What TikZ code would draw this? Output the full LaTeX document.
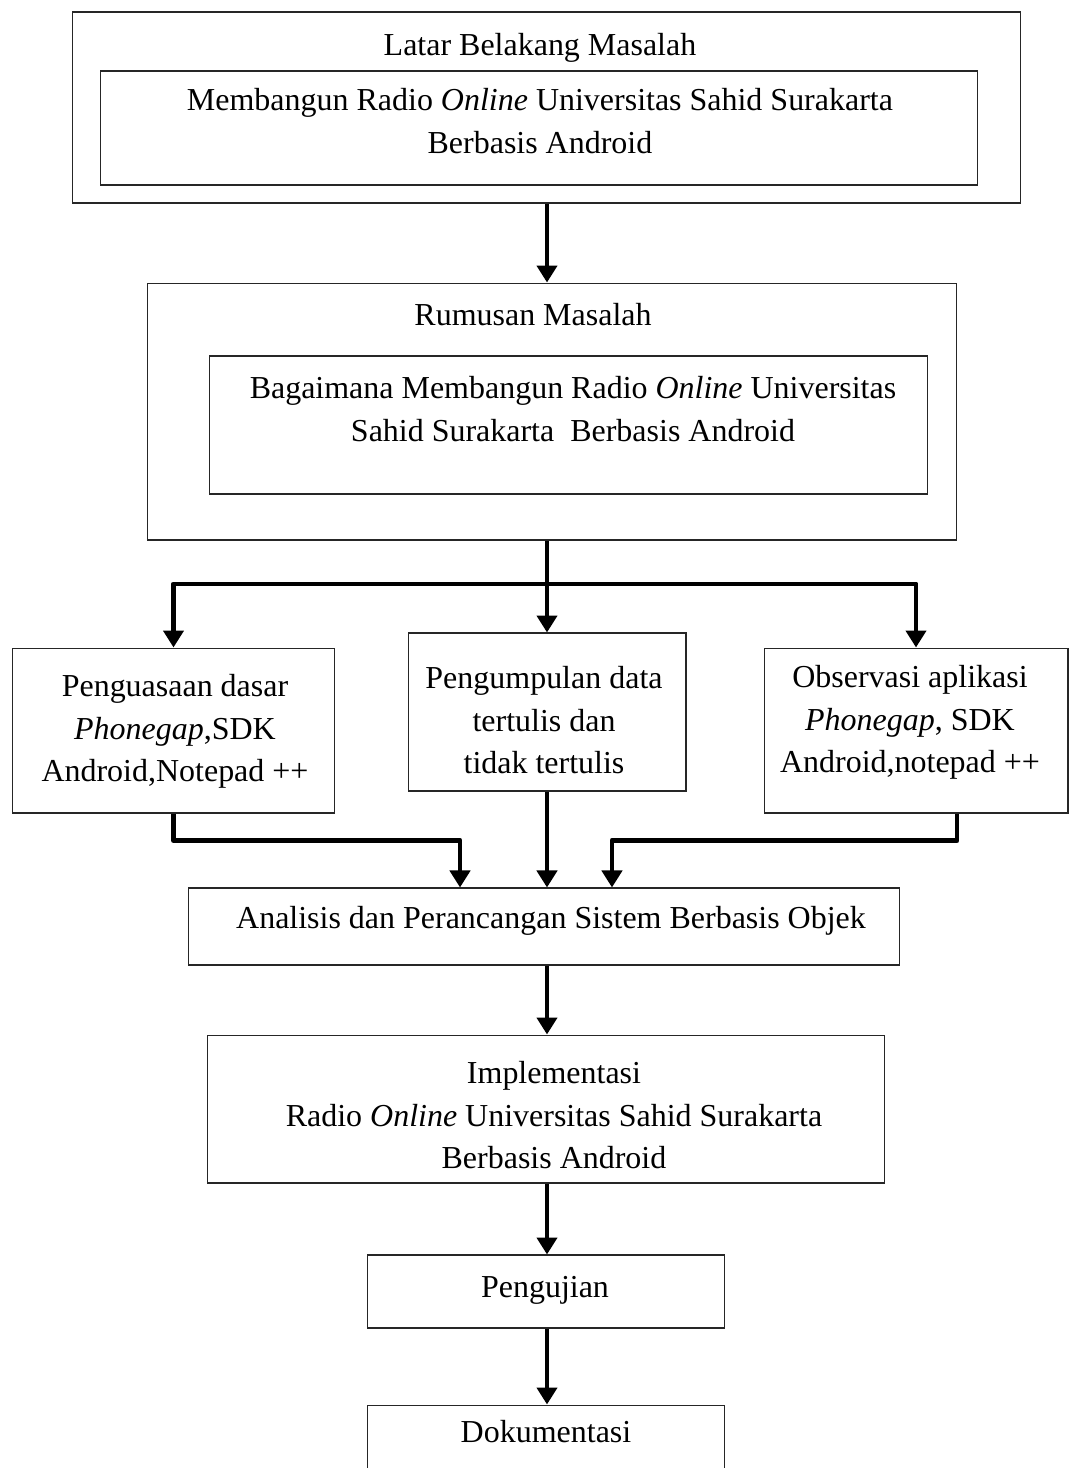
\documentclass[tikz,border=0pt]{standalone}
\usepackage{fontspec}
\setmainfont{Liberation Serif}
\usetikzlibrary{positioning,arrows.meta,calc}

\begin{document}
\begin{tikzpicture}[x=0.02cm,y=-0.02cm,font=\fontsize{18.2}{24.2}\selectfont,
  box/.style={draw=black!85,line width=0.6pt,inner sep=0pt},
  txt/.style={align=center,anchor=north,inner sep=0pt},
  arr/.style={-{Triangle[length=0.34cm,width=0.4cm]},line width=2.8pt,line join=round}]
  \clip (0,0) rectangle (1070,1468);
  % kotak-kotak
  \node[box,minimum width=18.98cm,minimum height=3.82cm] (latar) at (546.5,107.5) {};
  \node[box,minimum width=17.56cm,minimum height=2.28cm] (latarisi) at (539,128) {};
  \node[box,minimum width=16.2cm,minimum height=5.14cm] (rumusan) at (552,411.5) {};
  \node[box,minimum width=14.38cm,minimum height=2.76cm] (rumusanisi) at (568.5,425) {};
  \node[box,minimum width=6.46cm,minimum height=3.3cm] (dasar) at (173.5,730.5) {};
  \node[box,minimum width=5.56cm,minimum height=3.16cm] (data) at (547,712) {};
  \node[box,minimum width=6.08cm,minimum height=3.3cm] (observasi) at (916,730.5) {};
  \node[box,minimum width=14.24cm,minimum height=1.54cm] (analisis) at (544,926.5) {};
  \node[box,minimum width=13.56cm,minimum height=2.96cm] (impl) at (546,1109) {};
  \node[box,minimum width=7.16cm,minimum height=1.46cm] (uji) at (546,1291.5) {};
  \node[box,minimum width=7.16cm,minimum height=1.9cm] (dok) at (546,1452.5) {};
  % teks
  \node[txt] (tlatar) at (540,33) {Latar Belakang Masalah};
  \node[txt] (tlatarisi) at (540,88) {Membangun Radio \emph{Online} Universitas Sahid Surakarta\\Berbasis Android};
  \node[txt] (trumusan) at (533,303) {Rumusan Masalah};
  \node[txt] (trumusanisi) at (573,376) {Bagaimana Membangun Radio \emph{Online} Universitas\\Sahid Surakarta~ Berbasis Android};
  \node[txt] (tdasar) at (175,674) {Penguasaan dasar\\\emph{Phonegap},SDK\\Android,Notepad ++};
  \node[txt] (tdata) at (544,666) {Pengumpulan data\\tertulis dan\\tidak tertulis};
  \node[txt] (tobservasi) at (910,665) {Observasi aplikasi\\\emph{Phonegap}, SDK\\Android,notepad ++};
  \node[txt] (tanalisis) at (551,906) {Analisis dan Perancangan Sistem Berbasis Objek};
  \node[txt] (timpl) at (554,1061) {Implementasi\\Radio \emph{Online} Universitas Sahid Surakarta\\Berbasis Android};
  \node[txt] (tuji) at (545,1276) {Pengujian};
  \node[txt] (tdok) at (546,1420) {Dokumentasi};
  % panah
  \coordinate (cabang) at (547,584);
  \draw[arr] (latar.south -| data.north) -- (rumusan.north -| data.north);
  \draw[arr] (rumusan.south -| data.north) -- (data.north);
  \draw[arr] (cabang) -| (dasar.north);
  \draw[arr] (cabang) -| (observasi.north);
  \draw[arr] (dasar.south) -- ++(0,27) -| ([xshift=-1.68cm]analisis.north);
  \draw[arr] (data.south) -- (data.south |- analisis.north);
  \draw[arr] ([xshift=0.82cm]observasi.south) -- ++(0,27) -| ([xshift=1.36cm]analisis.north);
  \draw[arr] (analisis.south -| data.south) -- (impl.north -| data.south);
  \draw[arr] (impl.south -| data.south) -- (uji.north -| data.south);
  \draw[arr] (uji.south -| data.south) -- (dok.north -| data.south);
\end{tikzpicture}
\end{document}
